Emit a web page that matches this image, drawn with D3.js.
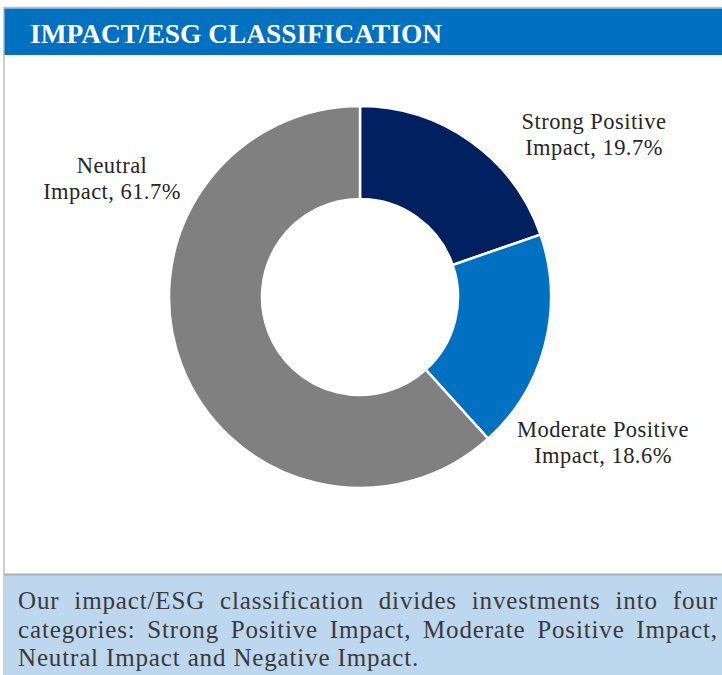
<!DOCTYPE html>
<html>
<head>
<meta charset="utf-8">
<script src="https://cdn.jsdelivr.net/npm/d3@7"></script>
<style>
  html, body { margin: 0; padding: 0; background: #fff; }
  svg { display: block; }
</style>
</head>
<body>
<svg id="chart" width="722" height="675"></svg>
<script>
// chart data
const categories = ["Strong Positive Impact", "Moderate Positive Impact", "Neutral Impact"];
const shares = [19.7, 18.6, 61.7];
const colors = ["#002060", "#0070C0", "#808080"];
// label text split in two lines, and where each sits
const labelLines = [
  ["Strong Positive", "Impact, 19.7%"],
  ["Moderate Positive", "Impact, 18.6%"],
  ["Neutral", "Impact, 61.7%"]
];
const labelPos = [[594, 129], [603, 437], [112, 173]];
const title = "IMPACT/ESG CLASSIFICATION";
// note text, broken where the reference breaks it
const noteLines = [
  "Our impact/ESG classification divides investments into four",
  "categories: Strong Positive Impact, Moderate Positive Impact,",
  "Neutral Impact and Negative Impact."
];

const W = 722, H = 675;
const svg = d3.select("#chart");
const serif = "Liberation Serif, Times New Roman, serif";

// outer frame
svg.append("rect")
  .attr("x", 4).attr("y", 7.5)
  .attr("width", W).attr("height", H)
  .attr("fill", "#fff")
  .attr("stroke", "#bfbfbf").attr("stroke-width", 1.5);

// header bar
svg.append("rect")
  .attr("x", 4.5).attr("y", 8.5)
  .attr("width", W - 4).attr("height", 46.5)
  .attr("fill", "#0070C0");
svg.append("text")
  .attr("x", 30).attr("y", 43)
  .attr("font-family", serif)
  .attr("font-size", 27)
  .attr("font-weight", "bold")
  .attr("fill", "#fff")
  .attr("textLength", 412)
  .attr("lengthAdjust", "spacingAndGlyphs")
  .text(title);

// donut
const cx = 360, cy = 297;
const pie = d3.pie().sort(null).value(d => d);
const arc = d3.arc().innerRadius(98).outerRadius(191);
const g = svg.append("g").attr("transform", `translate(${cx},${cy})`);
g.selectAll("path")
  .data(pie(shares))
  .join("path")
  .attr("d", arc)
  .attr("fill", (d, i) => colors[i])
  .attr("stroke", "#fff")
  .attr("stroke-width", 2.5);

// labels
labelLines.forEach((lines, i) => {
  const t = svg.append("text")
    .attr("text-anchor", "middle")
    .attr("font-family", serif)
    .attr("font-size", 22.5)
    .attr("letter-spacing", 0.45)
    .attr("fill", "#262626");
  lines.forEach((s, j) => {
    t.append("tspan")
      .attr("x", labelPos[i][0])
      .attr("y", labelPos[i][1] + j * 25.5)
      .text(s);
  });
});

// bottom note box
svg.append("rect")
  .attr("x", 4.5).attr("y", 575)
  .attr("width", W - 4).attr("height", H - 575)
  .attr("fill", "#BDD7EE");
svg.append("line")
  .attr("x1", 4).attr("x2", W).attr("y1", 574.5).attr("y2", 574.5)
  .attr("stroke", "#b0b0b0").attr("stroke-width", 2);

// justified paragraph
const noteFont = 25, noteLs = 0.85;
const left = 18, right = 717, lineH = 28.5, firstBase = 609;
const measure = svg.append("text")
  .attr("font-family", serif).attr("font-size", noteFont)
  .attr("letter-spacing", noteLs)
  .attr("visibility", "hidden");
function wordWidth(w) { measure.text(w); return measure.node().getComputedTextLength(); }
const spaceW = wordWidth("a a") - wordWidth("aa");

noteLines.forEach((line, li) => {
  const ws = line.split(" ").map(w => ({ w, ww: wordWidth(w) }));
  const last = li === noteLines.length - 1;
  const total = d3.sum(ws, d => d.ww);
  const gap = last ? spaceW : (right - left - total + noteLs) / (ws.length - 1);
  let x = left;
  ws.forEach(d => {
    svg.append("text")
      .attr("x", x).attr("y", firstBase + li * lineH)
      .attr("font-family", serif).attr("font-size", noteFont)
      .attr("letter-spacing", noteLs)
      .attr("fill", "#3a3a3a")
      .text(d.w);
    x += d.ww + gap;
  });
});
measure.remove();
</script>
</body>
</html>
